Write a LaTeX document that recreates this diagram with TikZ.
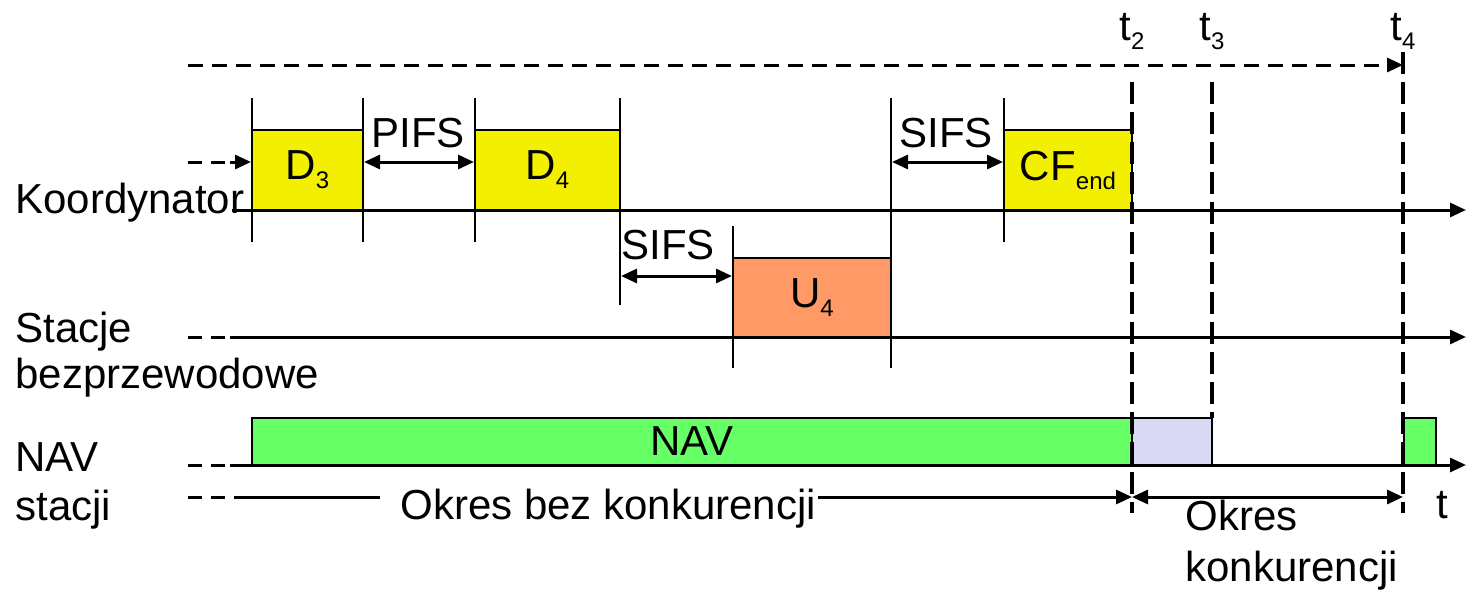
\documentclass[tikz,border=0pt]{standalone}
\usepackage{fontspec}
\setmainfont{Liberation Sans}
\usetikzlibrary{arrows.meta}
\definecolor{slotyellow}{HTML}{F2F000}
\definecolor{slotorange}{HTML}{FF9966}
\definecolor{navgreen}{HTML}{66FF66}
\definecolor{navlilac}{HTML}{D9D9F4}
% lowered small index, as in D3, U4, CFend
\newcommand\lowidx[1]{\raisebox{-4.5pt}{\fontsize{12}{12}\selectfont #1}}
\begin{document}
\begin{tikzpicture}[x=0.5pt,y=-0.5pt,
  >={Triangle[length=8pt,width=7pt]},
  txt/.style={font=\fontsize{21}{24}\selectfont,inner sep=0pt},
  slot/.style={draw,line width=1pt,inner sep=0pt,anchor=center,font=\fontsize{21}{24}\selectfont},
  axisline/.style={line width=1.5pt,->},
  lead/.style={line width=1.5pt,dash pattern=on 7pt off 4.5pt},
  tick/.style={line width=1pt},
  gapline/.style={line width=1.5pt,<->},
  boundary/.style={line width=2pt,dash pattern=on 11pt off 4pt},
  topline/.style={line width=1.5pt,dash pattern=on 7.5pt off 4.5pt,->}
]
\useasboundingbox (0,0) rectangle (1468,594);

% time axes
\draw[axisline] (232,210) -- (1466,210);
\draw[lead] (188,337) -- (230,337);
\draw[axisline] (230,337) -- (1466,337);
\draw[lead] (188,465) -- (230,465);
\draw[axisline] (230,465) -- (1466,465);

% frames of the coordinator
\node[slot,fill=slotyellow,minimum width=55.5pt,minimum height=40pt] (d3) at (307.5,170) {D\lowidx{3}};
\node[slot,fill=slotyellow,minimum width=72.5pt,minimum height=40pt] (d4) at (547.5,170) {D\lowidx{4}};
\node[slot,fill=slotyellow,minimum width=64pt,minimum height=40pt] (cf) at (1068,170) {CF\lowidx{end}};
% frame of the wireless station
\node[slot,fill=slotorange,minimum width=79pt,minimum height=39.5pt] (u4) at (812,297.5) {U\lowidx{4}};
% NAV timer
\node[slot,fill=navgreen,minimum width=440pt,minimum height=23.5pt] (nav) at (692,441.5) {NAV};
\node[slot,fill=navlilac,minimum width=40pt,minimum height=23.5pt] (navx) at (1172,441.5) {};
\node[slot,fill=navgreen,minimum width=16pt,minimum height=23.5pt] (navn) at (1420,441.5) {};

% slot boundaries
\draw[tick] (252,98) -- (252,242);
\draw[tick] (363,98) -- (363,242);
\draw[tick] (475,98) -- (475,242);
\draw[tick] (620,98) -- (620,305);
\draw[tick] (733,226) -- (733,368);
\draw[tick] (891,98) -- (891,368);
\draw[tick] (1004,98) -- (1004,242);

% incoming lead to D3
\coordinate (inD) at (188,162);
\draw[lead] (inD) -- (236,162);
\draw[line width=1.5pt,->] (230,162) -- ([yshift=4pt]d3.west);

% interframe spaces
\draw[gapline] ([yshift=4pt]d3.east) -- ([yshift=4pt]d4.west);
\node[txt] (pifs) at (418,133) {PIFS};
\coordinate (s1) at ([yshift=10.75pt]u4.west);
\draw[gapline] (d4.east |- s1) -- (s1);
\node[txt] (sifs1) at (668,245) {SIFS};
\draw[gapline] (u4.east |- cf.west) ++(0,-8) coordinate (s2) -- ([yshift=4pt]cf.west);
\node[txt] (sifs2) at (946,133) {SIFS};

% superframe reference line and time marks
\draw[topline] (188,65) -- (1403,65);
\coordinate (t2a) at (1132,82);  \coordinate (t2b) at (1132,513);
\coordinate (t3a) at (1212,82);  \coordinate (t3b) at (1212,418);
\coordinate (t4a) at (1403,52);  \coordinate (t4b) at (1403,513);
\draw[boundary] (t2a) -- (t2b);
\draw[boundary] (t3a) -- (t3b);
\draw[boundary] (t4a) -- (t4b);
\node[txt,anchor=base west] (lt2) at (1119,40) {t\lowidx{2}};
\node[txt,anchor=base west] (lt3) at (1199,40) {t\lowidx{3}};
\node[txt,anchor=base west] (lt4) at (1390,40) {t\lowidx{4}};

% periods
\draw[lead] (188,497) -- (236,497);
\draw[line width=1.5pt] (236,497) -- (380,497);
\draw[line width=1.5pt,->] (818,497) -- (t2b |- 0,497);
\node[txt,anchor=base west] (cfp) at (400,519) {Okres bez konkurencji};
\draw[gapline] (t2b |- 0,497) -- (t4b |- 0,497);
\node[txt,anchor=base west,align=left] (cp) at (1185,581) {Okres\\[1.5pt]konkurencji};
\node[txt,anchor=base] (tlab) at (1442,518) {t};

% row names
\node[txt,anchor=base west] (koord) at (15,213) {Koordynator};
\node[txt,anchor=base west] (stac) at (15,342) {Stacje};
\node[txt,anchor=base west] (bezp) at (15,388) {bezprzewodowe};
\node[txt,anchor=base west] (navl) at (15,471) {NAV};
\node[txt,anchor=base west] (stacji) at (15,520) {stacji};
\end{tikzpicture}
\end{document}
